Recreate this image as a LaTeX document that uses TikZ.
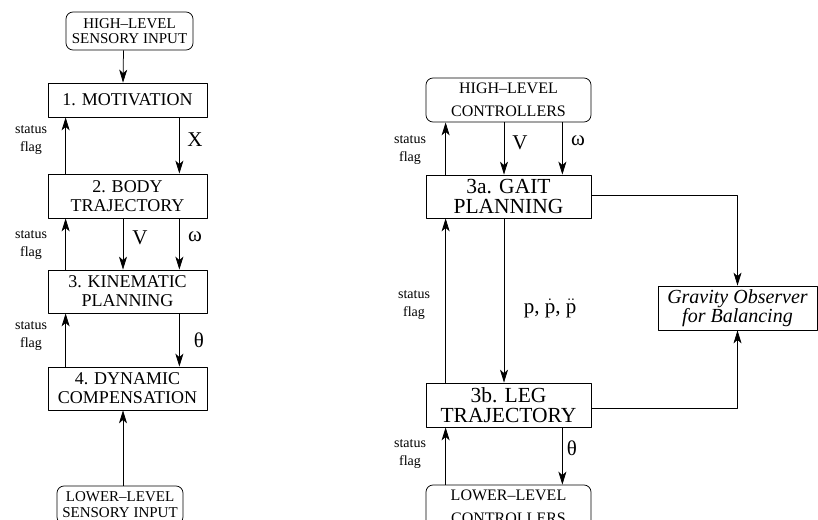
\documentclass[tikz,border=0pt]{standalone}
\usepackage{fontspec}
\setmainfont{Liberation Serif}
\usetikzlibrary{arrows.meta}
\begin{document}
\begin{tikzpicture}[x=1pt,y=-1pt,line join=round,line width=.75pt,
	>={Stealth[length=13pt,width=8pt,inset=3.5pt]},
	blk/.style={draw,inner sep=0pt,align=center,font=\fontsize{18}{19}\selectfont},
	bigblk/.style={blk,minimum width=165pt,minimum height=44pt,font=\fontsize{21.5}{20.5}\selectfont},
	ext/.style={blk,rounded corners=7pt},
	lbl/.style={font=\fontsize{21}{22}\selectfont},
	flag/.style={align=center,font=\fontsize{14}{18}\selectfont}]
	\useasboundingbox (0,0) rectangle (818,519);
	\clip (0,0) rectangle (818,519);
	% left column
	\node[ext,minimum width=127pt,minimum height=38pt,font=\fontsize{15}{15}\selectfont] (hsi) at (129.5,31) {HIGH--LEVEL\\SENSORY INPUT};
	\node[blk,minimum width=159pt,minimum height=34pt] (mot) at (127.5,100) {1. MOTIVATION};
	\node[blk,minimum width=159pt,minimum height=44pt] (body) at (127.5,196) {2. BODY\\TRAJECTORY};
	\node[blk,minimum width=159pt,minimum height=43pt] (kin) at (127.5,291.5) {3. KINEMATIC\\PLANNING};
	\node[blk,minimum width=159pt,minimum height=43pt] (dyn) at (127.5,388.5) {4. DYNAMIC\\COMPENSATION};
	\node[ext,minimum width=126pt,minimum height=38pt,font=\fontsize{15}{16}\selectfont] (lsi) at (120,505) {LOWER--LEVEL\\SENSORY INPUT};
	\draw[->] ([xshift=-6pt]hsi.south) -- ([xshift=-4.5pt]mot.north);
	\draw[->] ([xshift=-4.5pt]lsi.north -| dyn.south) -- ([xshift=-4.5pt]dyn.south);
	\foreach \a/\b in {body/mot,kin/body,dyn/kin}
	\draw[->] ([xshift=18pt]\a.north west) -- ([xshift=18pt]\b.south west);
	\draw[->] ([xshift=-28pt]mot.south east) -- ([xshift=-28pt]body.north east);
	\draw[->] ([xshift=-4.5pt]body.south) -- ([xshift=-4.5pt]kin.north);
	\draw[->] ([xshift=-28pt]body.south east) -- ([xshift=-28pt]kin.north east);
	\draw[->] ([xshift=-28pt]kin.south east) -- ([xshift=-28pt]dyn.north east);
	\foreach \y in {140,245,336}
	\node[flag] at (31,\y) {status\\flag};
	\node[lbl] (x) at (195,140) {X};
	\node[lbl] (vl) at (140,238) {V};
	\node[lbl] (wl) at (195,237) {ω};
	\node[lbl] (tl) at (199,340) {θ};
	% right column
	\node[ext,minimum width=165pt,minimum height=44pt,font=\fontsize{16}{23}\selectfont] (hlc) at (508.5,100) {HIGH--LEVEL\\CONTROLLERS};
	\node[bigblk,minimum height=43pt] (gait) at (508.5,196.5) {3a. GAIT\\PLANNING};
	\node[bigblk] (leg) at (508.5,405) {3b. LEG\\TRAJECTORY};
	\node[ext,minimum width=165pt,minimum height=44pt,font=\fontsize{16}{23}\selectfont] (llc) at (508.5,507) {LOWER--LEVEL\\CONTROLLERS};
	\node[blk,minimum width=159pt,minimum height=44pt,font=\fontsize{20}{19}\selectfont\itshape] (grav) at (737.5,308) {Gravity Observer\\for Balancing};
	\foreach \a/\b in {gait/hlc,leg/gait,llc/leg}
	\draw[->] ([xshift=20pt]\a.north west) -- ([xshift=20pt]\b.south west);
	\draw[->] ([xshift=-4.5pt]hlc.south) -- ([xshift=-4.5pt]gait.north);
	\draw[->] ([xshift=-29pt]hlc.south east) -- ([xshift=-29pt]gait.north east);
	\draw[->] ([xshift=-4.5pt]gait.south) -- ([xshift=-4.5pt]leg.north);
	\draw[->] ([xshift=-29pt]leg.south east) -- ([xshift=-29pt]llc.north east);
	\draw[->] ([yshift=1.5pt]gait.east) -| (grav.north);
	\draw[->] ([yshift=-3pt]leg.east) -| (grav.south);
	\foreach \x/\y in {410/150,414/305,410/454}
	\node[flag] at (\x,\y) {status\\flag};
	\node[lbl] (vr) at (520,143) {V};
	\node[lbl] (wr) at (578,141) {ω};
	\node[lbl] (pr) at (550,308) {p, $\dot{\mbox{p}}$, $\ddot{\mbox{p}}$};
	\node[lbl] (tr) at (572,448) {θ};
\end{tikzpicture}
\end{document}
